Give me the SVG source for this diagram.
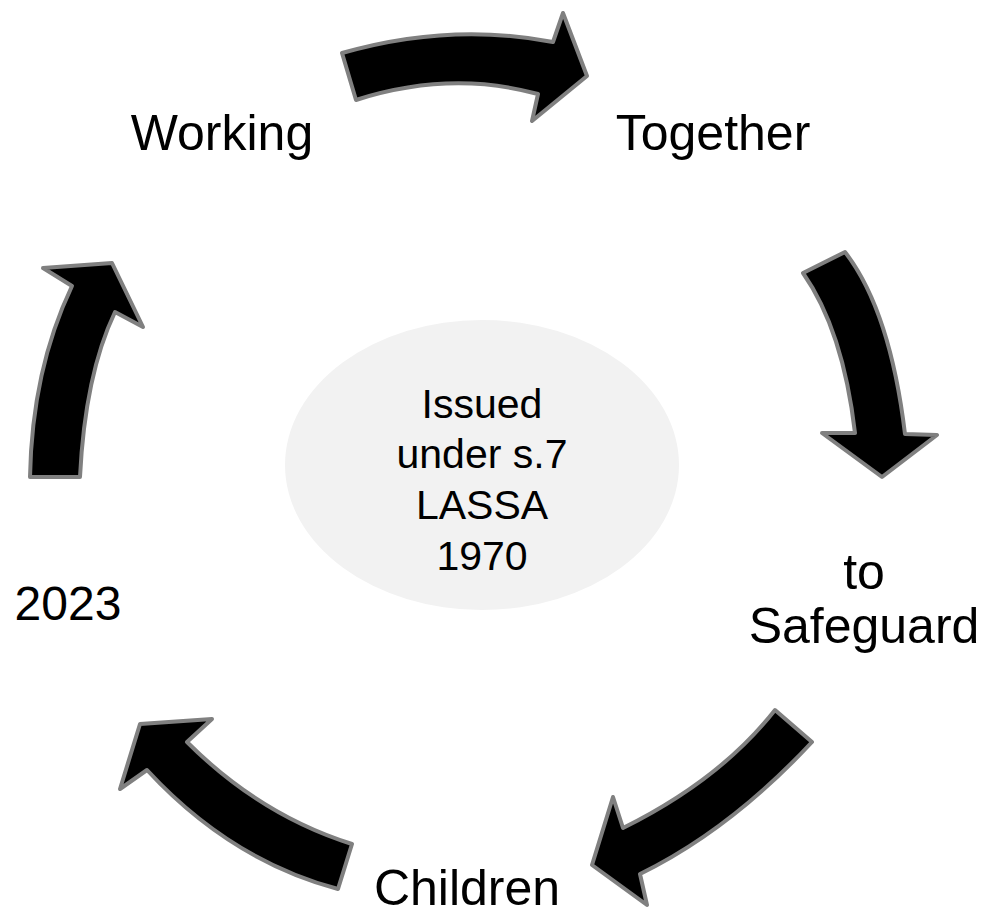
<svg xmlns="http://www.w3.org/2000/svg" width="987" height="915" viewBox="0 0 987 915">
<style>
.arr{fill:#000;stroke:#808080;stroke-width:4;stroke-linejoin:round}
.lbl{font-family:"Liberation Sans",Arial,sans-serif;font-size:50px;fill:#000;text-anchor:middle}
.ctr{font-family:"Liberation Sans",Arial,sans-serif;font-size:41px;fill:#000;text-anchor:middle}
</style>
<rect width="987" height="915" fill="#fff"/>
<g id="connectors">
<path class="arr" d="M342,53 Q450,22 553,42 L563,13 L587,76 L532,121 L538,94 Q450,70 356,100 Z"/>
<path class="arr" d="M803,273 Q843,330 855,433 L822,433 L882,477 L937,435 L905,434 Q890,310 845,252 Z"/>
<path class="arr" d="M775,710 L812,742 Q730,830 640,874 L647,905 L592,865 L613,797 L623,828 Q720,780 775,710 Z"/>
<path class="arr" d="M352,844 L338,889 Q230,860 147,770 L120,789 L140,724 L212,719 L187,742 Q260,815 352,844 Z"/>
<path class="arr" d="M30,477 L80,477 Q85,375 115,312 L143,327 L112,263 L43,268 L72,286 Q32,370 30,477 Z"/>
</g>
<g id="center">
<ellipse cx="482" cy="465" rx="197" ry="145" fill="#f2f2f2"/>
<text class="ctr" x="482" y="418">Issued</text>
<text class="ctr" x="482" y="468">under s.7</text>
<text class="ctr" x="482" y="519">LASSA</text>
<text class="ctr" x="482" y="570">1970</text>
</g>
<g id="n-working"><text class="lbl" x="222" y="150">Working</text></g>
<g id="n-together"><text class="lbl" x="713" y="150">Together</text></g>
<g id="n-safeguard"><text class="lbl" x="864" y="589">to</text><text class="lbl" x="864" y="643">Safeguard</text></g>
<g id="n-children"><text class="lbl" x="467" y="905">Children</text></g>
<g id="n-2023"><text class="lbl" x="68" y="620" style="font-size:48px">2023</text></g>
</svg>
